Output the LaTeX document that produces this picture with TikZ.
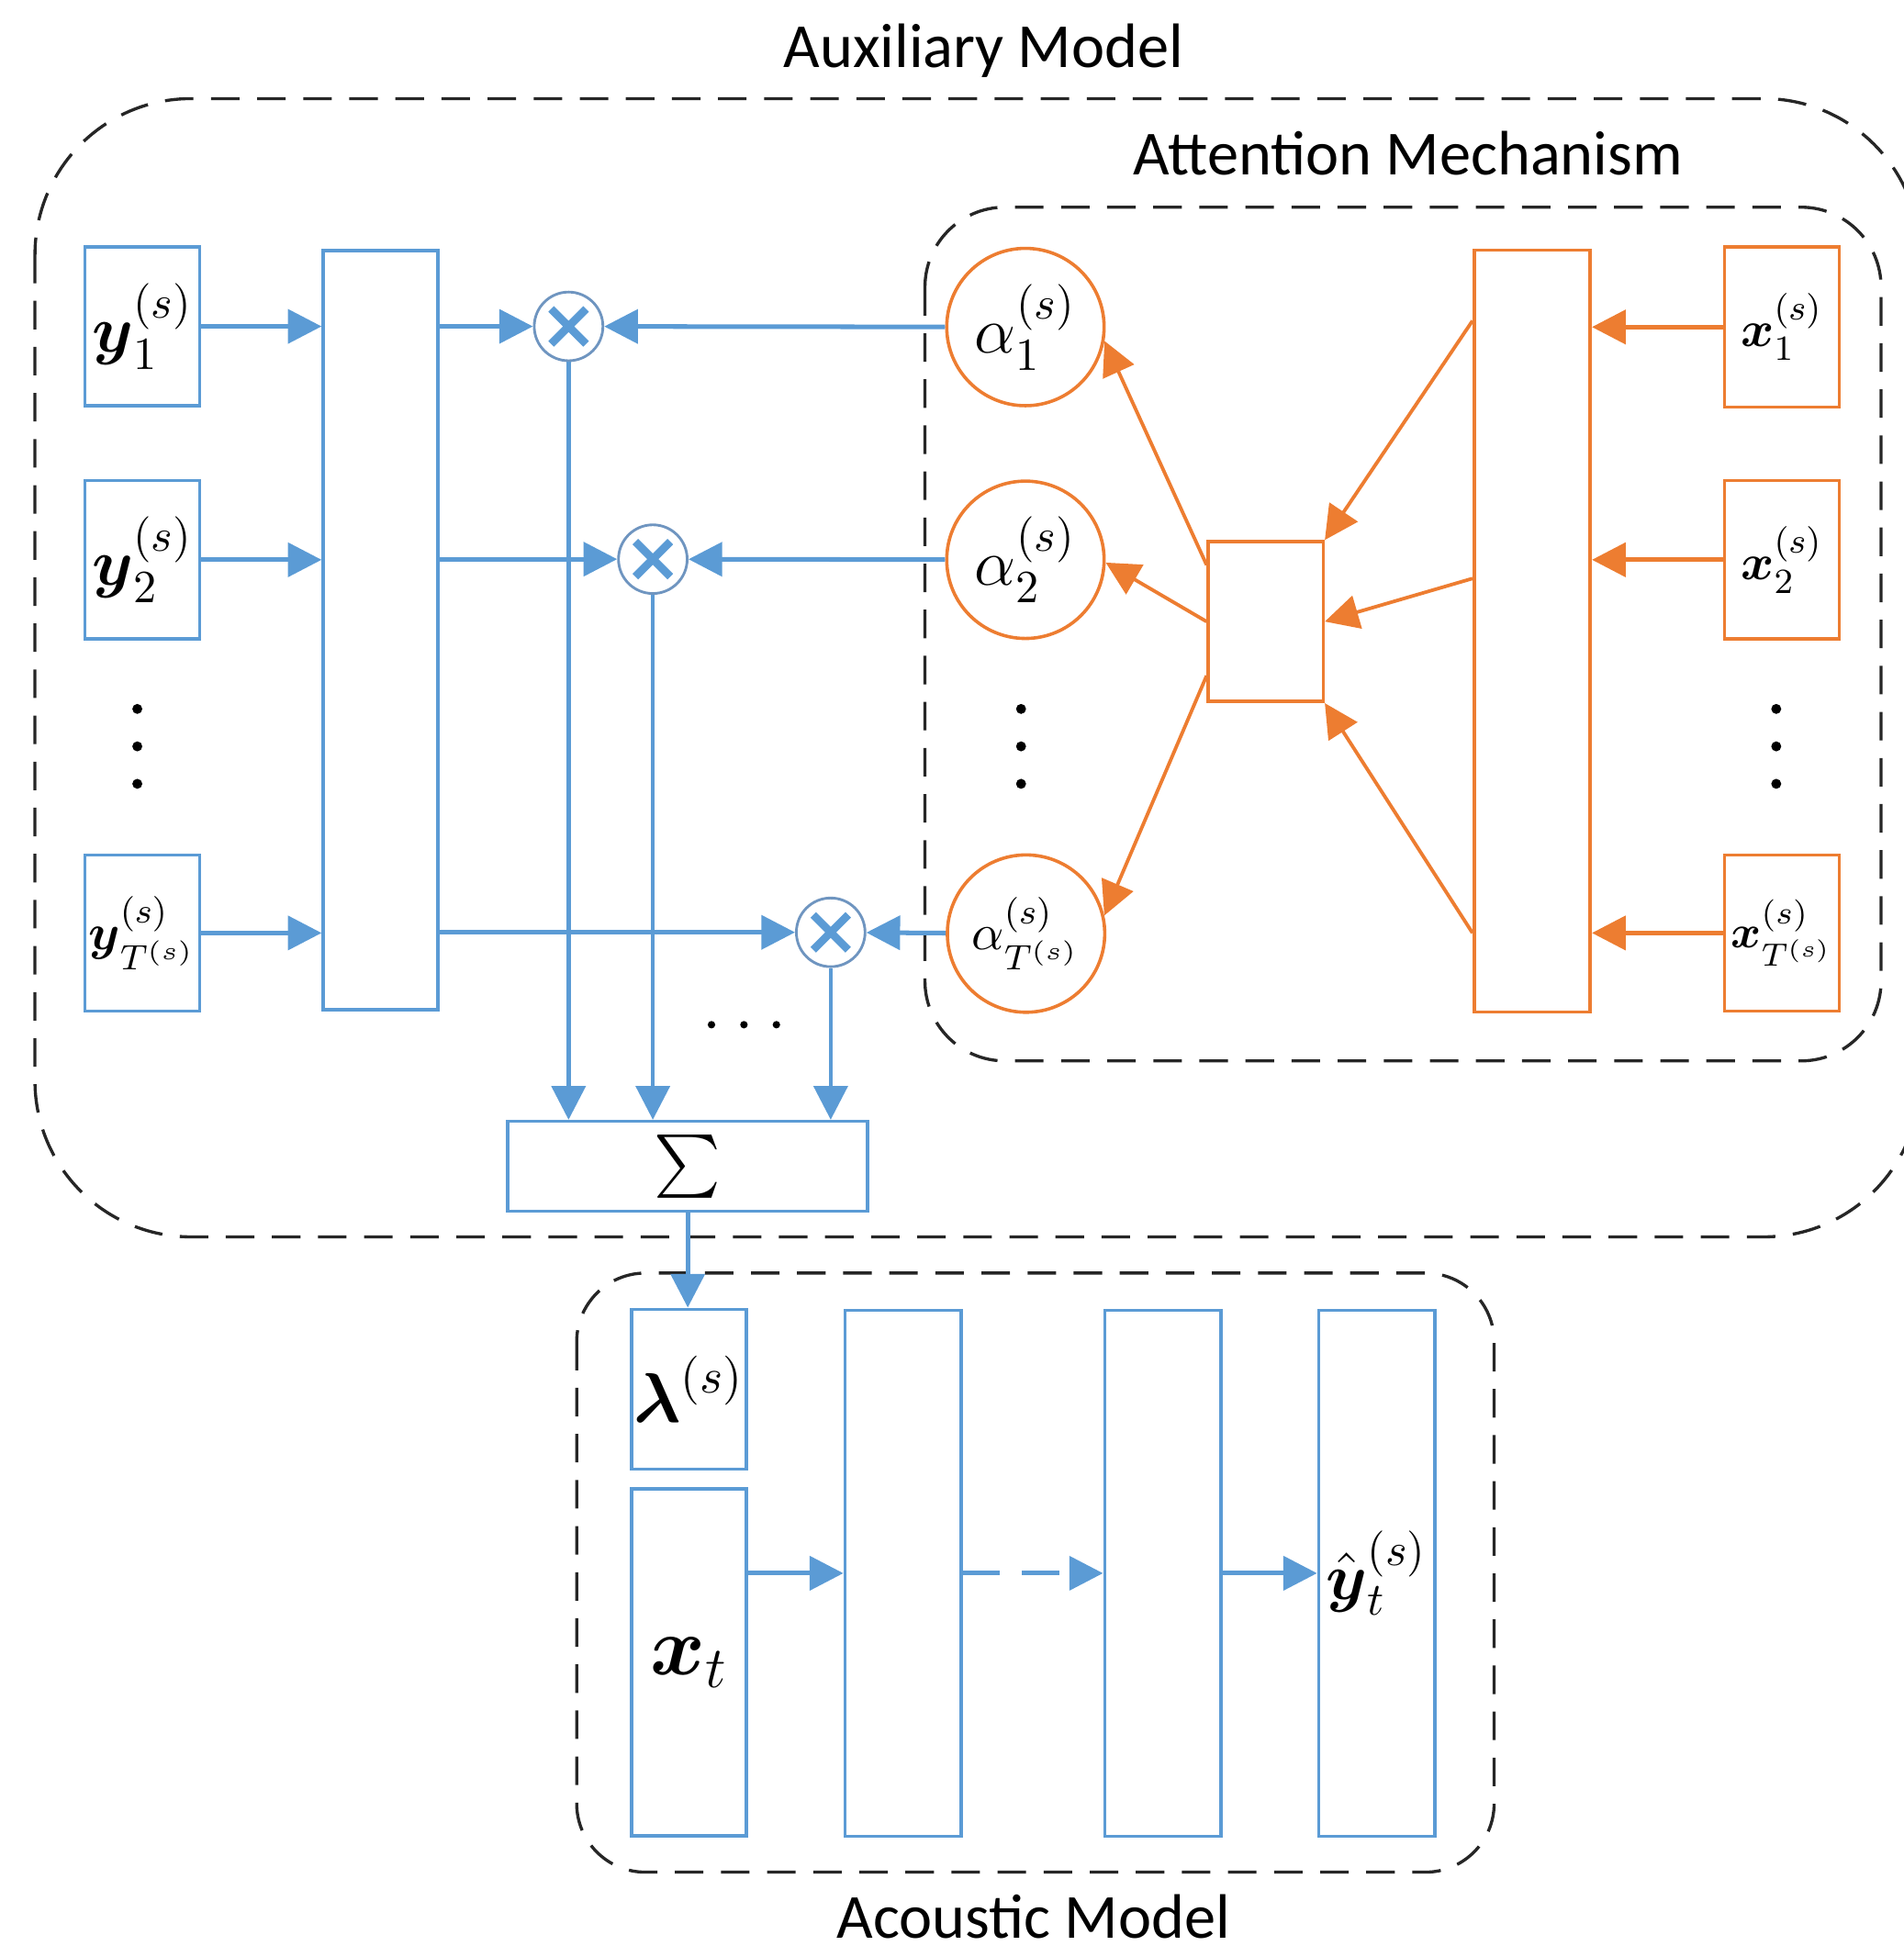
\RequirePackage{fix-cm}
\documentclass[tikz,border=0pt]{standalone}
\usepackage{amsmath}
\usepackage{fontspec}
\newfontfamily\titlefont{Carlito}
\usetikzlibrary{arrows.meta,calc}
\definecolor{bl}{HTML}{5B9BD5}
\definecolor{blc}{HTML}{6F95C0}
\definecolor{orng}{HTML}{ED7D31}
\definecolor{dk}{HTML}{262626}
\tikzset{
  tip/.style={-{Triangle[length=0.27cm,width=0.27cm]}},
  bbox/.style={draw=bl, line width=0.75pt, inner sep=0pt, minimum width=0.92cm},
  obox/.style={draw=orng, line width=0.75pt, inner sep=0pt, minimum width=0.92cm},
  ocirc/.style={draw=orng, line width=0.75pt, circle, inner sep=0pt, minimum size=1.26cm},
  mult/.style={draw=blc, line width=0.6pt, circle, inner sep=0pt, minimum size=0.55cm,
    path picture={\draw[bl, line width=1.8pt]
      ([shift={(-0.14cm,-0.14cm)}]path picture bounding box.center) -- ([shift={(0.14cm,0.14cm)}]path picture bounding box.center)
      ([shift={(-0.14cm,0.14cm)}]path picture bounding box.center) -- ([shift={(0.14cm,-0.14cm)}]path picture bounding box.center);}},
  barr/.style={draw=bl, line width=1.05pt, tip},
  bvert/.style={draw=bl, line width=0.95pt, tip},
  oarr/.style={draw=orng, line width=1.05pt, tip},
  othin/.style={draw=orng, line width=0.8pt, tip},
  dbox/.style={draw=dk, line width=0.7pt, dash pattern=on 6.5pt off 4pt},
  ttl/.style={anchor=base, inner sep=0.5pt, font=\titlefont\fontsize{14.3}{17}\selectfont},
  mlab/.style={font=\fontsize{15}{18}\selectfont},
  slab/.style={font=\fontsize{11.5}{13}\selectfont},
}
\begin{document}
\begin{tikzpicture}[x=0.01cm,y=-0.01cm]
\useasboundingbox (0,0) rectangle (1525,1568);

% titles
\node[ttl] (tAux) at (788,54) {Auxiliary Model};
\node[ttl] (tAtt) at (1128,140) {Attention Mechanism};
\node[ttl] (tAco) at (828,1553) {Acoustic Model};

% dashed containers
\draw[dbox, rounded corners=1.25cm] (28,79) rectangle (1538,991);
\draw[dbox, rounded corners=0.64cm] (741,166) rectangle (1507,850);
\draw[dbox, rounded corners=0.55cm] (462,1020) rectangle (1197,1500);

% auxiliary inputs
\node[bbox, minimum height=1.27cm, mlab] (y1) at (114,261.5) {$\boldsymbol{y}_1^{(s)}$};
\node[bbox, minimum height=1.27cm, mlab] (y2) at (114,448.5) {$\boldsymbol{y}_2^{(s)}$};
\node[bbox, minimum height=1.25cm, slab] (yT) at (114,747.5) {$\boldsymbol{y}_{T^{(s)}}^{(s)}$};
\node[bbox, minimum height=6.08cm] (h) at (305,505) {};

% multipliers
\node[mult] (m1) at (455.5,261.5) {};
\node[mult] (m2) at (523,448) {};
\node[mult] (m3) at (665.5,747) {};

% attention weights
\node[ocirc, mlab] (a1) at (821.5,262) {$\alpha_1^{(s)}$};
\node[ocirc, mlab] (a2) at (821.5,448.5) {$\alpha_2^{(s)}$};
\node[ocirc, font=\fontsize{11.5}{13}\selectfont] (aT) at (822,748) {$\alpha_{T^{(s)}}^{(s)}$};

% attention network
\node[obox, minimum height=1.28cm] (sm) at (1014,498) {};
\node[obox, minimum width=0.93cm, minimum height=6.1cm] (ho) at (1227.5,505.5) {};
\node[obox, minimum height=1.28cm, slab] (x1) at (1427.5,262) {$\boldsymbol{x}_1^{(s)}$};
\node[obox, minimum height=1.27cm, slab] (x2) at (1427.5,448.5) {$\boldsymbol{x}_2^{(s)}$};
\node[obox, minimum height=1.25cm, font=\fontsize{10.5}{12}\selectfont] (xT) at (1427.5,747.5) {$\boldsymbol{x}_{T^{(s)}}^{(s)}$};

% sum
\node[bbox, minimum width=2.88cm, minimum height=0.72cm, font=\fontsize{15}{18}\selectfont] (S) at (551,934.5) {$\sum$};

% acoustic model
\node[bbox, minimum height=1.28cm, font=\fontsize{16}{19}\selectfont] (lam) at (552,1113) {$\boldsymbol{\lambda}^{(s)}$};
\node[bbox, minimum height=2.78cm, font=\fontsize{19}{22}\selectfont] (xt) at (552,1332) {$\boldsymbol{x}_t$};
\node[bbox, minimum width=0.93cm, minimum height=4.21cm] (h1) at (723.5,1260.5) {};
\node[bbox, minimum width=0.93cm, minimum height=4.21cm] (h2) at (931.5,1260.5) {};
\node[bbox, minimum width=0.93cm, minimum height=4.21cm, mlab] (yo) at (1103,1260.5) {$\hat{\boldsymbol{y}}_t^{(s)}$};

% dots
\foreach \px in {110,818,1423}{
  \foreach \py in {568,598,628}{
    \fill (\px,\py) circle[radius=0.04cm];
  }
}
\foreach \px in {570,596,622}{
  \fill (\px,821) circle[radius=0.03cm];
}

% blue connectors
\draw[barr] (y1) -- (y1 -| h.west);
\draw[barr] (y2) -- (y2 -| h.west);
\draw[barr] (yT) -- (yT -| h.west);
\draw[barr] (h.east |- m1) -- (m1);
\draw[barr] (h.east |- m2) -- (m2);
\draw[barr] (h.east |- m3) -- (m3);
\draw[barr] (a1) -- (m1);
\draw[barr] (a2) -- (m2);
\draw[barr] (aT) -- (m3);
\draw[bvert] (m1) -- (m1 |- S.north);
\draw[bvert] (m2) -- (m2 |- S.north);
\draw[bvert] (m3) -- (m3 |- S.north);
\draw[barr] (S.south) -- (S.south |- lam.north);
\draw[barr] (xt.east |- h1.west) -- (h1.west);
\draw[barr, dash pattern=on 8.5pt off 5pt] (h1.east) -- (h2.west);
\draw[barr] (h2.east) -- (yo.west);

% orange connectors
\draw[oarr] (x1) -- (x1 -| ho.east);
\draw[oarr] (x2) -- (x2 -| ho.east);
\draw[oarr] (xT) -- (xT -| ho.east);
\draw[othin] ($(ho.west |- x1)+(0,-5)$) -- (sm.north east);
\draw[othin] ($(ho.west |- x2)+(0,15)$) -- (sm.east);
\draw[othin] (ho.west |- xT) -- (sm.south east);
\draw[othin] ($(sm.north west)+(0,20)$) -- (a1.-10);
\draw[othin] (sm.west) -- (a2.-2);
\draw[othin] ($(sm.south west)+(0,-22)$) -- (aT.13);
\end{tikzpicture}
\end{document}
